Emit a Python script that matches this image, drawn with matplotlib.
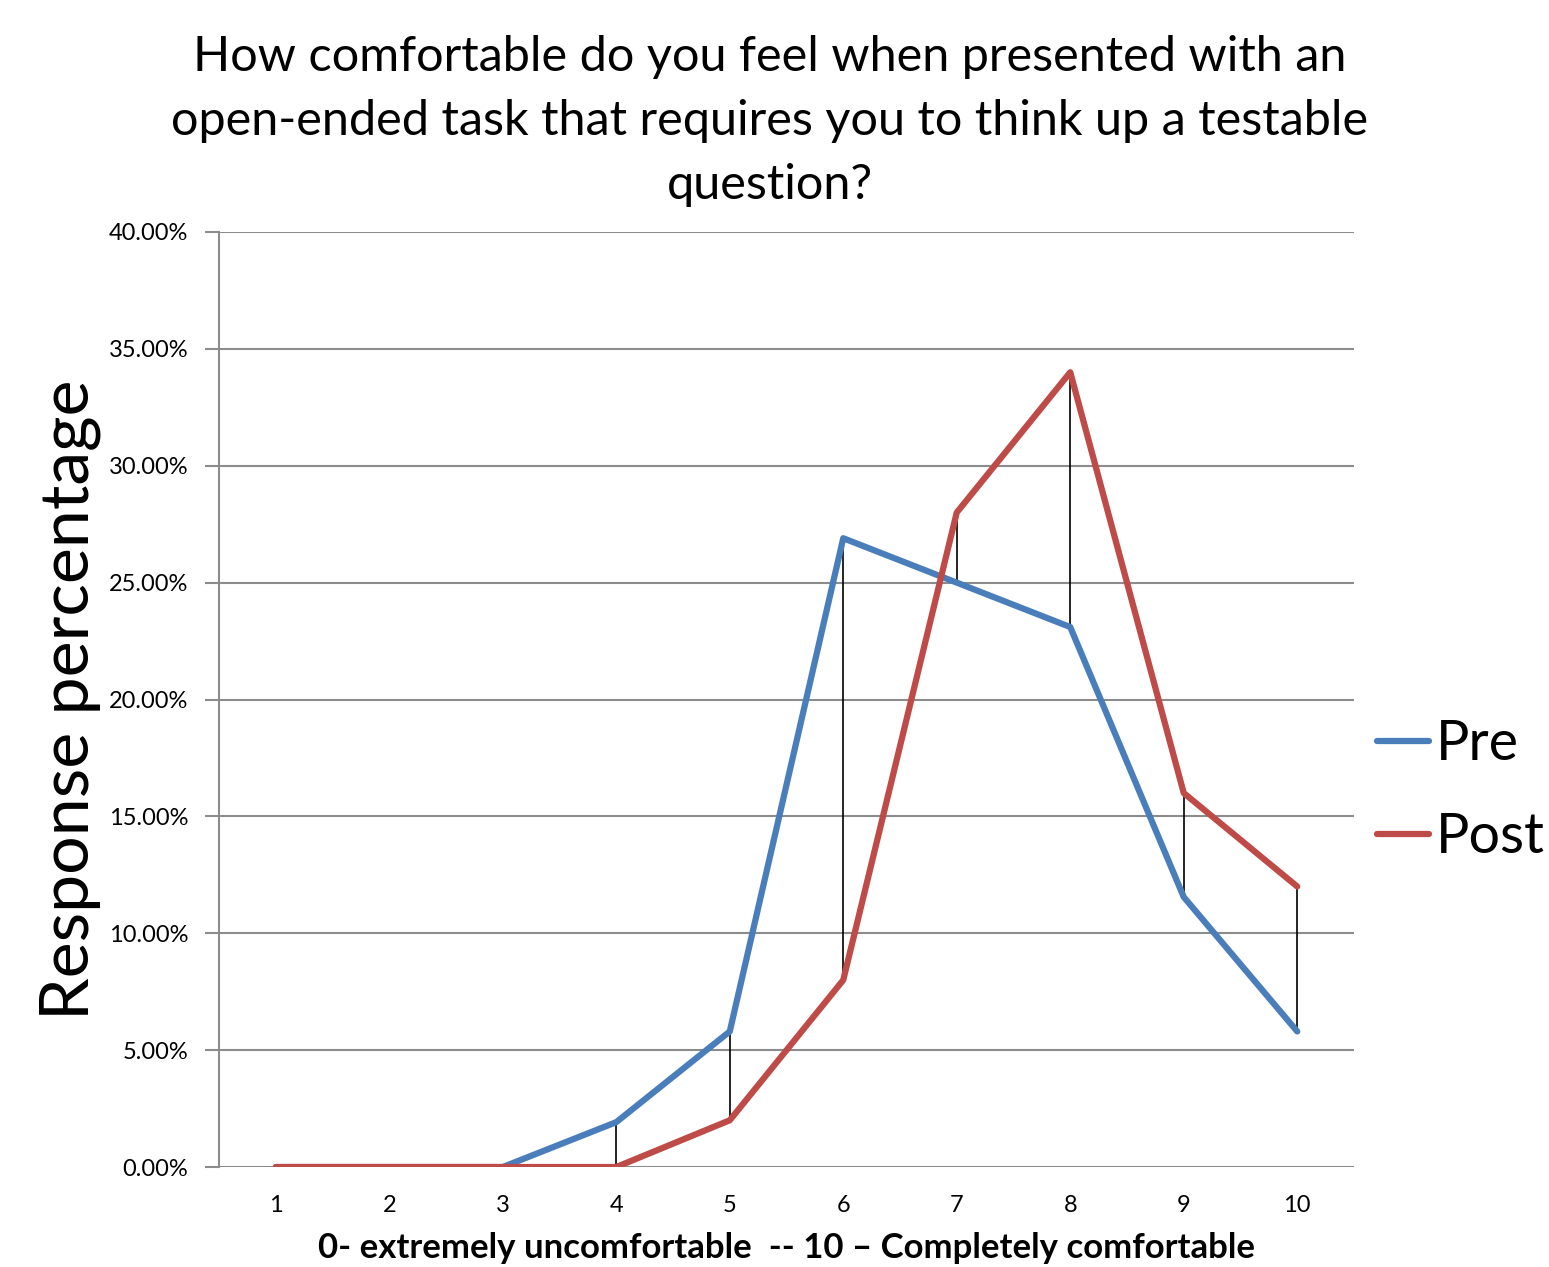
import matplotlib.pyplot as plt
import numpy as np
from matplotlib.ticker import PercentFormatter

plt.rcParams['font.family'] = ['Lato', 'DejaVu Sans']

# ------------------------------
# data
# ------------------------------
scores = [1, 2, 3, 4, 5, 6, 7, 8, 9, 10]
pre = [0.0, 0.0, 0.0, 1.92, 5.8, 26.9, 25.0, 23.1, 11.55, 5.8]
post = [0.0, 0.0, 0.0, 0.0, 2.0, 8.0, 28.0, 34.0, 16.0, 12.0]
y_ticks = [0, 5, 10, 15, 20, 25, 30, 35, 40]

title = ("How comfortable do you feel when presented with an\n"
         "open-ended task that requires you to think up a testable\n"
         "question?")

fig = plt.figure(figsize=(15.49, 12.67), dpi=100)
ax = fig.add_axes([0.1414, 0.0789, 0.8741 - 0.1414, 0.8169 - 0.0789])

# high-low lines
ax.vlines(scores, np.minimum(pre, post), np.maximum(pre, post),
          color="black", linewidth=1.2, zorder=2)

ax.plot(scores, pre, color="#4a7ebb", linewidth=4.5, label="Pre",
        solid_capstyle="round", zorder=3)
ax.plot(scores, post, color="#be4b48", linewidth=4.5, label="Post",
        solid_capstyle="round", zorder=3)

ax.set_xlim(0.5, 10.5)
ax.set_ylim(0, 40)
ax.set_xticks(scores)
ax.set_yticks(y_ticks)
ax.yaxis.set_major_formatter(PercentFormatter(decimals=2))
ax.grid(axis="y", color="#8c8c8c", linewidth=1.5)
ax.set_axisbelow(True)

for s in ["top", "right", "bottom"]:
    ax.spines[s].set_visible(False)
ax.spines["left"].set_color("#8c8c8c")
ax.spines["left"].set_linewidth(1.5)
ax.tick_params(axis="y", length=10, width=1.5, color="#8c8c8c",
               labelsize=17, pad=12)
ax.tick_params(axis="x", length=0, labelsize=17, pad=20)

ax.set_xlabel("0- extremely uncomfortable  -- 10 \u2013 Completely comfortable",
              fontsize=25, fontweight="bold", labelpad=12)
ax.set_ylabel("Response percentage", fontsize=49, labelpad=6)

fig.text(0.497, 0.972, title, fontsize=35, ha="center", va="top",
         linespacing=1.55)

ax.legend(loc="center left", bbox_to_anchor=(1.02, 0.402), frameon=False,
          fontsize=40, handlelength=0.95, handletextpad=0.12,
          labelspacing=0.75, borderaxespad=0, borderpad=0)

fig.savefig("out.png", dpi=100)
